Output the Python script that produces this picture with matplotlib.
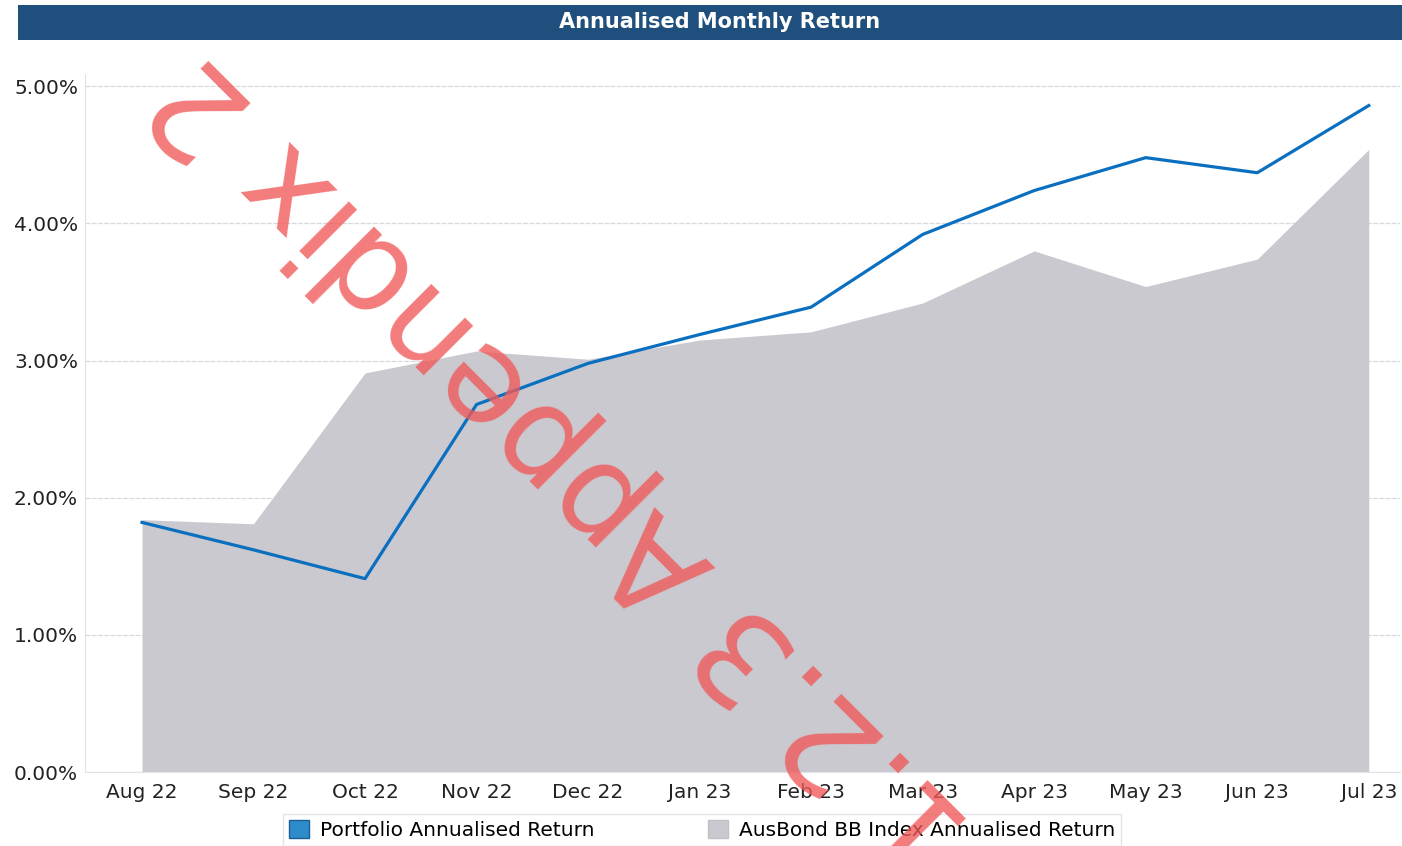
"""
Annualised monthly return chart
"""

import matplotlib
matplotlib.use("Agg")
import matplotlib.pyplot as plt
from matplotlib.patches import Rectangle, Patch
from matplotlib.ticker import FuncFormatter

months = ['Aug 22', 'Sep 22', 'Oct 22', 'Nov 22', 'Dec 22', 'Jan 23',
          'Feb 23', 'Mar 23', 'Apr 23', 'May 23', 'Jun 23', 'Jul 23']
portfolio_return = [1.82, 1.62, 1.41, 2.68, 2.98, 3.19, 3.39, 3.92, 4.24, 4.48, 4.37, 4.86]
ausbond_return = [1.84, 1.81, 2.91, 3.07, 3.01, 3.15, 3.21, 3.42, 3.80, 3.54, 3.74, 4.54]
y_ticks = [0, 1, 2, 3, 4, 5]

W, H = 1402, 846
fig = plt.figure(figsize=(W / 100, H / 100), dpi=100)
fig.patch.set_facecolor('white')

# title bar
fig.patches.append(Rectangle((18 / W, 1 - 40 / H), 1 - 18 / W, 35 / H,
                             transform=fig.transFigure, facecolor='#1f4f7c',
                             edgecolor='none', zorder=0))
fig.text(720 / W, 1 - 22 / H, 'Annualised Monthly Return', color='white',
         fontsize=15, fontweight='bold', ha='center', va='center')

ax = fig.add_axes([85 / W, 74 / H, 1315 / W, 698 / H])
x = list(range(len(months)))
ax.fill_between(x, 0, ausbond_return, color='#c9c9cf', linewidth=0, zorder=2)
ax.plot(x, portfolio_return, color='#0b6fc0', linewidth=2.3, zorder=3)

ax.set_xlim(-0.511, 11.28)
ax.set_ylim(0, 5.09)
ax.set_yticks(y_ticks)
ax.yaxis.set_major_formatter(FuncFormatter(lambda v, p: f'{v:.2f}%'))
ax.set_xticks(x)
ax.set_xticklabels(months)
ax.tick_params(axis='both', length=0, labelsize=14.5, colors='#222222')
ax.tick_params(axis='x', pad=8)
ax.tick_params(axis='y', pad=5)
ax.grid(axis='y', color='#d8d8e0', linewidth=0.9, linestyle=(0, (4, 1)), zorder=1)
for side in ['top', 'right']:
    ax.spines[side].set_visible(False)
for side in ['left', 'bottom']:
    ax.spines[side].set_color('#e2e2e8')
    ax.spines[side].set_linewidth(0.8)

handles = [Patch(facecolor='#2f8ccb', edgecolor='#1a5f94', label='Portfolio Annualised Return'),
           Patch(facecolor='#c9c9cf', edgecolor='#c0c0c6', label='AusBond BB Index Annualised Return')]
fig.legend(handles=handles, loc='upper left', bbox_to_anchor=(283 / W, 1 - 814 / H),
           ncol=2, frameon=True, fancybox=False, edgecolor='#dcdce4', fontsize=14.5,
           handlelength=1.0, handleheight=1.0, columnspacing=5.6, handletextpad=0.55,
           borderpad=0.3, borderaxespad=0)

# red stamp across the chart
fig.text(564 / W, 1 - 464 / H, '1.2.3 Appendix 2', rotation=135, fontsize=93,
         color='#f05a5a', alpha=0.8, ha='center', va='center', rotation_mode='anchor',
         zorder=10)

plt.savefig('out.png', dpi=100)
plt.close()
